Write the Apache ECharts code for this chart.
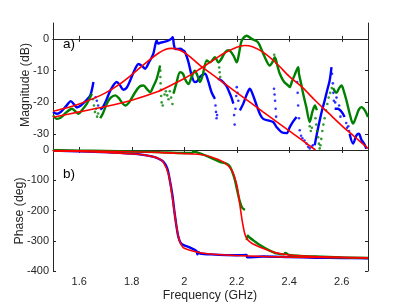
<!DOCTYPE html>
<html><head><meta charset="utf-8">
<script src="https://cdn.jsdelivr.net/npm/echarts@6/dist/echarts.min.js"></script>
<style>html,body{margin:0;padding:0;background:#fff}#c{width:407px;height:305px}</style>
</head><body><div id="c"></div>
<script>
// ---------- DATA ----------
const xTicks = [1.6, 1.8, 2, 2.2, 2.4, 2.6];
const magTicks = [-30, -20, -10, 0];
const phaseTicks = [-400, -300, -200, -100, 0];

// Blue magnitude (dense line), null = gap
const blueMagF = [1.50,1.515,1.53,1.55,1.568,1.58,1.591,1.606,1.625,1.642,1.654,1.66,
  1.68,1.69,1.705,1.72,1.743,1.755,1.768,1.78,1.794,1.813,1.826,1.84,1.851,1.865,1.882,1.895,
  1.90,1.91,1.92,1.93,1.94,1.95,1.956,1.96,1.965,1.975,1.985,1.995,2.003,2.015,2.028,2.04,2.05,2.06,2.079,2.09,2.104,2.117,2.12,
  2.128,2.14,2.15,2.16,2.17,2.18,2.187,2.19,
  2.212,2.225,2.238,2.25,2.263,2.276,2.29,2.301,2.32,2.339,2.352,2.371,2.39,2.402,2.415,2.428,2.43,
  2.497,2.505,2.516,2.525,2.535,2.545,2.554,2.561,2.565,
  2.573,2.585,2.6,2.611,2.615,
  2.63,2.643,2.656,2.665,2.675,2.685,2.694];
const blueMagDb = [-23.0,-23.6,-23.0,-21.2,-19.6,-20.6,-21.6,-21.0,-19.5,-17.8,-13.6,null,
  -22.3,-21.5,-18.9,-16.0,-13.6,-14.6,-16.0,-15.5,-13.1,-9.4,-7.9,-8.6,-9.4,-7.5,-4.7,-0.5,
  -1.5,-1.2,-1.0,-0.8,-0.5,0.0,0.5,-1.5,-3.1,-3.2,-3.1,-3.6,-4.2,-7.0,-11.5,-13.6,-13.3,-12.0,-11.0,-13.0,-16.8,-18.9,null,
  -12.6,-13.0,-13.8,-14.7,-16.5,-18.5,-20.4,null,
  -22.5,-20.4,-17.5,-15.7,-18.0,-21.0,-24.0,-25.2,-25.7,-26.2,-27.8,-29.4,-29.7,-27.8,-26.0,-24.6,null,
  -33.5,-30.0,-25.7,-22.5,-19.4,-16.0,-13.1,-8.9,null,
  -22.0,-22.0,-23.0,-24.6,null,
  -29.9,-33.0,-30.4,-29.9,-31.8,-33.0,-34.6];
// Blue magnitude scattered points
const blueDotF = [1.662,1.667,1.672,2.119,2.121,2.123,2.125,2.19,2.192,2.195,2.198,2.2,2.203,2.206,
  2.342,2.344,2.346,2.348,2.35,2.43,2.432,2.434,2.437,2.44,2.445,2.45,2.458,2.466,2.472,2.478,2.485,2.49,
  2.563,2.566,2.568,2.57,2.575,2.58,2.59,2.595,2.617,2.62,2.625,2.628];
const blueDotDb = [-18.4,-19.5,-21.0,-21.0,-23.0,-25.0,-24.0,-24.0,-27.0,-22.0,-18.0,-15.2,-17.0,-19.5,
  -15.7,-17.5,-19.5,-22.0,-24.5,-13.6,-17.0,-21.0,-25.0,-28.8,-30.5,-31.3,-32.0,-33.0,-34.0,-34.5,-34.0,-33.5,
  -11.0,-14.0,-17.0,-19.5,-20.0,-18.5,-21.0,-24.5,-26.5,-28.0,-27.5,-29.0];

// Green magnitude (dense line)
const greenMagF = [1.50,1.515,1.53,1.55,1.572,1.585,1.597,1.61,1.629,1.648,1.65,
  1.68,1.69,1.705,1.72,1.737,1.75,1.765,1.775,1.79,1.813,1.83,1.845,1.858,1.87,1.882,1.895,1.908,1.91,
  1.96,1.97,1.984,1.995,2.005,2.016,2.028,2.04,2.05,2.06,2.07,2.086,2.098,2.117,2.13,2.14,2.156,2.17,2.187,2.2,2.21,2.219,2.238,2.257,2.28,2.295,2.307,2.326,2.335,2.345,2.355,2.364,2.38,2.396,2.402,2.41,2.42,2.434,
  2.437,2.445,2.453,2.465,2.478,2.488,2.498,2.505,2.51,
  2.567,2.58,2.59,2.599,2.608,2.618,2.63,2.643,2.655,2.665,2.675,2.688,2.70];
const greenMagDb = [-24.1,-25.2,-24.8,-23.2,-22.0,-22.8,-23.6,-22.5,-20.4,-17.3,null,
  -25.0,-23.5,-20.4,-18.5,-17.8,-18.6,-20.3,-21.0,-20.0,-16.8,-15.0,-14.7,-15.8,-16.8,-15.0,-12.6,-8.4,null,
  -17.0,-14.0,-10.5,-11.0,-13.0,-14.2,-12.0,-10.0,-11.5,-13.6,-11.5,-6.8,-7.4,-5.8,-7.4,-6.5,-4.2,-3.6,-5.2,-7.4,-4.0,-0.5,1.0,0.0,-1.0,-3.5,-5.8,-8.4,-7.5,-5.8,-8.5,-11.0,-13.5,-14.7,-15.2,-13.5,-11.5,-8.9,
  -11.0,-14.0,-17.3,-21.5,-26.2,-23.0,-21.0,-22.5,null,
  -15.5,-17.0,-15.5,-14.7,-16.5,-19.4,-23.5,-26.7,-24.5,-22.3,-21.5,-22.5,-24.6];
// Green magnitude scattered points
const greenDotF = [1.652,1.656,1.66,1.664,1.668,1.672,1.909,1.909,1.91,1.911,1.912,1.914,1.918,1.925,1.93,1.935,1.94,1.945,1.95,1.955,1.96,
  2.133,2.135,2.137,2.343,2.347,2.35,2.5,2.503,2.506,2.51,2.513,2.516,2.519,2.522,2.526,2.53,2.535,2.54,2.545,2.55,2.556,2.562,2.478,2.482,2.486];
const greenDotDb = [-19.0,-21.0,-23.0,-22.0,-24.5,-23.5,-10.0,-12.0,-14.0,-16.0,-18.0,-20.0,-21.0,-17.5,-16.5,-17.8,-19.0,-16.5,-18.5,-20.5,-17.0,
  -9.0,-10.5,-12.0,-5.0,-6.5,-7.5,-25.0,-27.0,-29.0,-31.0,-33.0,-34.5,-33.5,-31.5,-29.0,-27.0,-25.0,-22.5,-20.5,-18.5,-17.0,-15.5,-27.5,-29.0,-28.0];

// Red model fits, magnitude
const fitBlueMagF = [1.50,1.55,1.60,1.65,1.70,1.75,1.80,1.85,1.90,1.93,1.95,1.97,2.00,2.03,2.061,2.10,2.20,2.30,2.40,2.45,2.50];
const fitBlueMagDb = [-22.8,-21.8,-20.5,-18.9,-17.0,-14.5,-11.3,-7.8,-4.6,-3.3,-3.0,-3.2,-4.3,-6.2,-8.4,-10.8,-16.9,-23.0,-29.0,-32.0,-35.0];
const fitGreenMagF = [1.50,1.60,1.70,1.80,1.90,1.95,2.00,2.05,2.10,2.15,2.20,2.23,2.26,2.30,2.35,2.40,2.45,2.50,2.55,2.60,2.65,2.70];
const fitGreenMagDb = [-24.7,-23.0,-21.3,-19.3,-16.6,-14.6,-12.5,-10.0,-7.3,-4.6,-2.6,-2.1,-2.5,-4.2,-7.6,-11.8,-15.3,-19.5,-23.4,-27.3,-30.9,-34.5];

// Phase data
const bluePhF = [1.50,1.60,1.70,1.80,1.85,1.88,1.90,1.92,1.935,1.945,1.955,1.962,1.97,1.977,1.985,1.997,2.02,2.047,2.05,2.055,2.06,2.10,2.20,2.237,2.24,2.30,2.40,2.50,2.60,2.70];
const bluePhDeg = [-2,-4,-7,-12,-17,-22,-28,-38,-60,-100,-150,-200,-250,-285,-305,-314,-322,-334,-345,-338,-342,-345,-348,-347,-355,-352,-354,-356,-357,-358];
const greenPhF = [1.50,1.60,1.70,1.80,1.90,2.00,2.03,2.035,2.06,2.10,2.136,2.16,2.174,2.19,2.20,2.21,2.22,2.231,2.234,
  2.238,2.242,2.25,2.27,2.288,2.32,2.352,2.38,2.385,2.40,2.44,2.50,2.60,2.70];
const greenPhDeg = [0,-2,-3,-5,-7,-10,-10,-5,-11,-25,-39,-45,-55,-90,-127,-165,-190,-198,null,
  -298,-283,-290,-303,-314,-330,-342,-345,-340,-347,-350,-352,-355,-357];
const fitBluePhF = [1.50,1.60,1.70,1.80,1.85,1.90,1.92,1.94,1.95,1.96,1.97,1.98,1.99,2.00,2.05,2.10,2.20,2.40,2.70];
const fitBluePhDeg = [-3,-5,-8,-13,-17,-27,-40,-80,-130,-190,-250,-295,-315,-325,-338,-344,-349,-354,-357];
const fitGreenPhF = [1.50,1.70,1.80,1.90,2.00,2.06,2.10,2.15,2.18,2.20,2.21,2.22,2.23,2.24,2.26,2.30,2.35,2.40,2.50,2.70];
const fitGreenPhDeg = [-2,-4,-6,-8,-12,-15,-22,-40,-65,-115,-170,-230,-275,-295,-310,-325,-340,-347,-352,-356];

// ---------- CHART ----------
const zip = (f, v) => f.map((x, i) => [x, v[i] === null ? '-' : v[i]]);
const FONT = '"Liberation Sans", Arial, Helvetica, sans-serif';
const AX = '#262626';
const BLUE = '#0000ff', GREEN = '#008000', RED = '#ff0000';
const G0 = {left: 53, top: 23, width: 315, height: 127};
const G1 = {left: 53, top: 150, width: 315, height: 121};

function xAx(grid, pos, labels) {
  return {
    type: 'value', gridIndex: grid, position: pos, min: 1.5, max: 2.7,
    axisLine: {show: true, lineStyle: {color: AX, width: 1}},
    axisTick: {show: true, inside: true, length: 3, customValues: xTicks, lineStyle: {color: AX}},
    axisLabel: {show: labels, customValues: xTicks, color: AX, fontSize: 11, fontFamily: FONT, margin: 5,
      formatter: v => String(+(+v).toFixed(1))},
    splitLine: {show: false}
  };
}
function yAx(grid, pos, labels, min, max, ticks) {
  return {
    type: 'value', gridIndex: grid, position: pos, min: min, max: max,
    axisLine: {show: true, lineStyle: {color: AX, width: 1}},
    axisTick: {show: true, inside: true, length: 3, customValues: ticks, lineStyle: {color: AX}},
    axisLabel: {show: labels, customValues: ticks, color: AX, fontSize: 11, fontFamily: FONT, margin: 4,
      formatter: v => String(Math.round(v))},
    splitLine: {show: false}
  };
}

const line = (x, y, data, color, w, z) => ({
  type: 'line', xAxisIndex: x, yAxisIndex: y, data: data, showSymbol: false, symbol: 'none',
  lineStyle: {color: color, width: w}, itemStyle: {color: color}, connectNulls: false,
  smooth: 0.3, animation: false, z: z || 2, clip: true
});
const dots = (x, y, data, color) => ({
  type: 'scatter', xAxisIndex: x, yAxisIndex: y, data: data, symbolSize: 2.6,
  itemStyle: {color: color}, animation: false, z: 2, clip: true
});
const label = (text, x, y, rot, size) => ({
  type: 'text', x: x, y: y, rotation: rot || 0, z: 10,
  style: {text: text, font: (size || 12.3) + 'px ' + FONT, fill: AX, align: 'center', verticalAlign: 'middle'}
});

const chart = echarts.init(document.getElementById('c'), null, {renderer: 'canvas'});
chart.setOption({
  backgroundColor: '#fff',
  animation: false,
  grid: [G0, G1],
  xAxis: [xAx(0, 'bottom', false), xAx(0, 'top', false), xAx(1, 'bottom', true), xAx(1, 'top', false)],
  yAxis: [yAx(0, 'left', true, -35, 5, magTicks), yAx(0, 'right', false, -35, 5, magTicks),
          yAx(1, 'left', true, -400, 0, phaseTicks), yAx(1, 'right', false, -400, 0, phaseTicks)],
  graphic: [
    label('Magnitude (dB)', 26, 85, Math.PI / 2),
    label('Phase (deg)', 19.5, 211, Math.PI / 2),
    label('Frequency (GHz)', 210, 295.5, 0),
    {type: 'text', left: 63, top: 37, z: 10, style: {text: 'a)', font: '13.5px ' + FONT, fill: '#000'}},
    {type: 'text', left: 63, top: 167, z: 10, style: {text: 'b)', font: '13.5px ' + FONT, fill: '#000'}}
  ],
  series: [
    line(0, 0, zip(blueMagF, blueMagDb), BLUE, 2.4),
    dots(0, 0, zip(blueDotF, blueDotDb), BLUE),
    line(0, 0, zip(greenMagF, greenMagDb), GREEN, 2.4),
    dots(0, 0, zip(greenDotF, greenDotDb), GREEN),
    line(0, 0, zip(fitBlueMagF, fitBlueMagDb), RED, 1.6, 3),
    line(0, 0, zip(fitGreenMagF, fitGreenMagDb), RED, 1.6, 3),
    line(2, 2, zip(bluePhF, bluePhDeg), BLUE, 2.4),
    line(2, 2, zip(greenPhF, greenPhDeg), GREEN, 2.4),
    line(2, 2, zip(fitBluePhF, fitBluePhDeg), RED, 1.6, 3),
    line(2, 2, zip(fitGreenPhF, fitGreenPhDeg), RED, 1.6, 3)
  ]
});
</script></body></html>
